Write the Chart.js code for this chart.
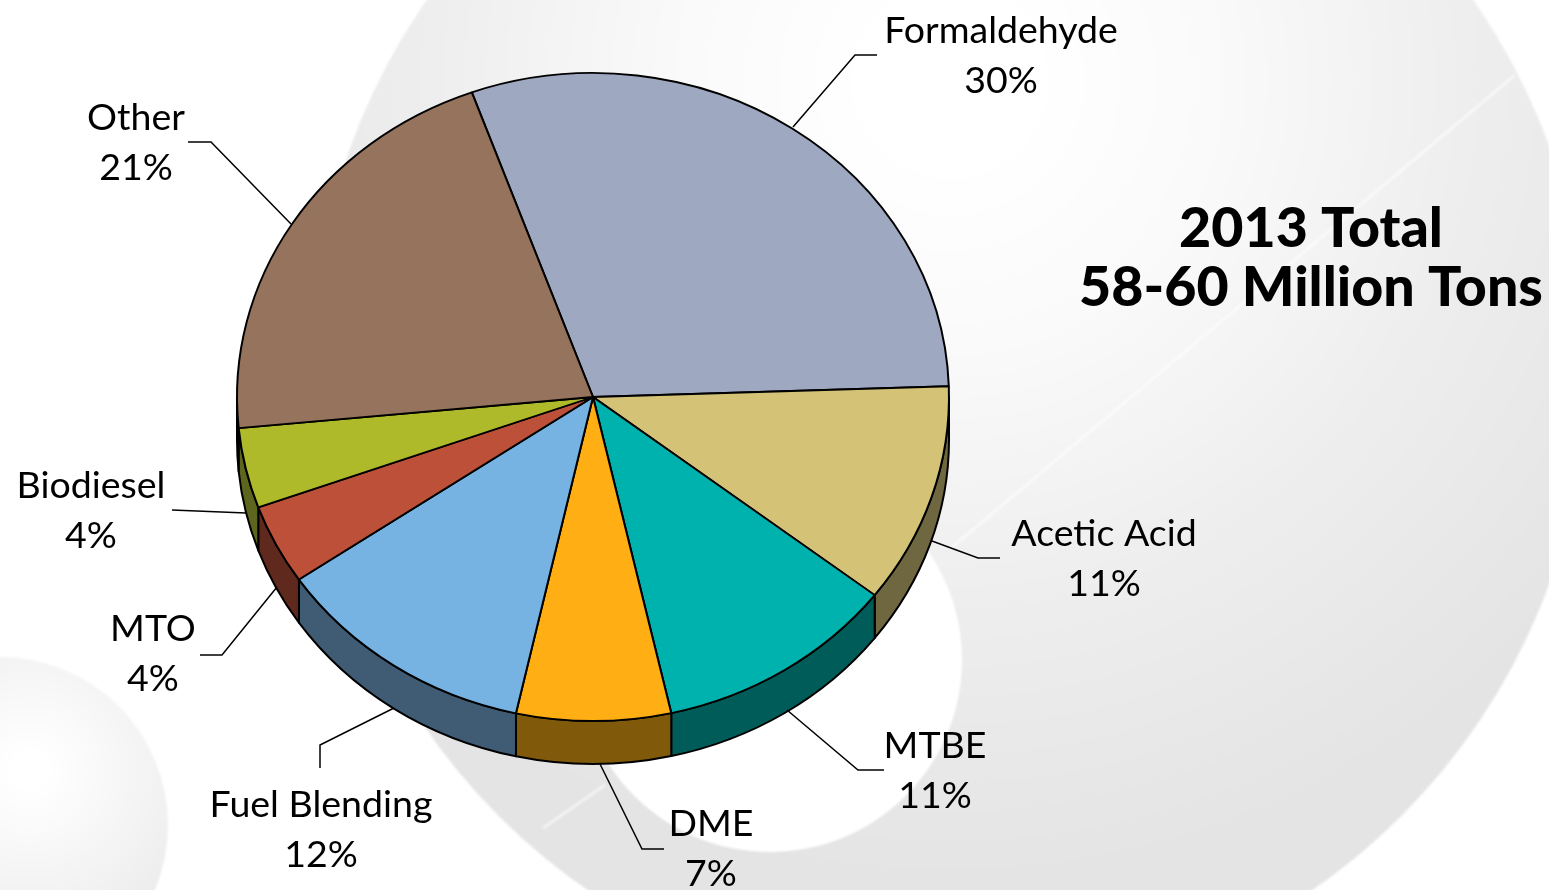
<!DOCTYPE html>
<html>
<head>
<meta charset="utf-8">
<title>2013 Total</title>
<script src="https://cdn.jsdelivr.net/npm/chart.js@4/dist/chart.umd.min.js"></script>
<style>
    body { margin: 0; background: #fff; overflow: hidden; }
    canvas { display: block; }
</style>
</head>
<body>
<canvas id="myChart" width="1549" height="890"></canvas>
<script>
const categories = ['Formaldehyde', 'Acetic Acid', 'MTBE', 'DME', 'Fuel Blending', 'MTO', 'Biodiesel', 'Other'];
const shares = [30, 11, 11, 7, 12, 4, 4, 21];
const titleLines = ['2013 Total', '58-60 Million Tons'];

const topColors = ['#9EA8C1', '#D4C277', '#00B2AE', '#FFAE13', '#76B3E3', '#BD5038', '#AEBA2A', '#96735D'];
const wallColors = ['#5C6478', '#6F673F', '#005C58', '#80590A', '#3F5C74', '#5F291E', '#5E651C', '#4D3A2E'];

// label centre x, first line y, then the leader line
const labelSpots = [
    {x: 1001, y: 31, line: [[793, 127], [855, 55], [877, 55]]},
    {x: 1104, y: 534, line: [[932, 541], [978, 558], [1000, 558]]},
    {x: 935, y: 746, line: [[787, 710], [858, 770], [884, 770]]},
    {x: 711, y: 824, line: [[600, 764], [642, 849], [664, 849]]},
    {x: 321, y: 805, line: [[394, 708], [320, 745], [320, 768]]},
    {x: 153, y: 629, line: [[277, 587], [222, 655], [200, 655]]},
    {x: 91, y: 486, line: [[246, 513], [172, 510]]},
    {x: 136, y: 118, line: [[291, 224], [211, 142], [188, 142]]},
];

const squash = 324 / 356;
const depth = 43;

const backdrop = {
    id: 'backdrop',
    beforeDraw(chart) {
        const ctx = chart.ctx;
        ctx.save();
        ctx.fillStyle = '#fff';
        ctx.fillRect(0, 0, 1549, 890);
        ctx.filter = 'blur(1px)';

        // big grey disc
        let grad = ctx.createRadialGradient(950, 80, 0, 950, 80, 900);
        grad.addColorStop(0.1, '#ffffff');
        grad.addColorStop(0.3, '#fafafa');
        grad.addColorStop(0.58, '#eeeeee');
        grad.addColorStop(0.9, '#e4e4e5');
        ctx.fillStyle = grad;
        ctx.beginPath();
        ctx.arc(950, 365, 638, 0, Math.PI * 2);
        ctx.fill();

        // white hole under the pie
        ctx.fillStyle = '#fff';
        ctx.beginPath();
        ctx.arc(770, 660, 192, 0, Math.PI * 2);
        ctx.fill();

        // small sphere bottom left
        grad = ctx.createRadialGradient(30, 770, 0, 30, 770, 190);
        grad.addColorStop(0.1, '#ffffff');
        grad.addColorStop(1, '#ebebeb');
        ctx.fillStyle = grad;
        ctx.beginPath();
        ctx.arc(0, 825, 168, 0, Math.PI * 2);
        ctx.fill();

        // faint streak across the disc
        ctx.strokeStyle = 'rgba(255,255,255,0.55)';
        ctx.lineWidth = 3;
        ctx.beginPath();
        ctx.moveTo(1515, 75);
        ctx.lineTo(950, 549);
        ctx.stroke();
        ctx.beginPath();
        ctx.moveTo(605, 785);
        ctx.lineTo(543, 828);
        ctx.stroke();
        ctx.restore();
    },
};

const pieTilt = {
    id: 'pieTilt',
    beforeDatasetsDraw(chart) {
        const ctx = chart.ctx;
        const arcs = chart.getDatasetMeta(0).data;
        ctx.save();
        ctx.strokeStyle = '#000';
        ctx.lineWidth = 2;
        ctx.lineJoin = 'round';
        // side wall, only the part of each slice that faces the front
        arcs.forEach((arc, i) => {
            const rx = arc.outerRadius;
            const ry = rx * squash;
            [0, Math.PI * 2].forEach((shift) => {
                const from = Math.max(arc.startAngle - shift, 0);
                const to = Math.min(arc.endAngle - shift, Math.PI);
                if (to <= from) return;
                ctx.beginPath();
                ctx.ellipse(arc.x, arc.y, rx, ry, 0, from, to);
                ctx.ellipse(arc.x, arc.y + depth, rx, ry, 0, to, from, true);
                ctx.closePath();
                ctx.fillStyle = wallColors[i];
                ctx.fill();
                ctx.stroke();
            });
        });
        ctx.restore();

        // squash the top face, library draws the arcs inside this
        const first = arcs[0];
        ctx.save();
        ctx.translate(first.x, first.y);
        ctx.scale(1, squash);
        ctx.translate(-first.x, -first.y);
    },
    afterDatasetsDraw(chart) {
        chart.ctx.restore();
    },
};

const labelText = {
    id: 'labelText',
    afterDraw(chart) {
        const ctx = chart.ctx;
        ctx.save();
        ctx.strokeStyle = '#000';
        ctx.lineWidth = 1.5;
        labelSpots.forEach((spot) => {
            ctx.beginPath();
            spot.line.forEach((p, i) => i ? ctx.lineTo(p[0], p[1]) : ctx.moveTo(p[0], p[1]));
            ctx.stroke();
        });
        ctx.fillStyle = '#000';
        ctx.textAlign = 'center';
        ctx.textBaseline = 'middle';
        ctx.font = '400 37.5px Lato';
        labelSpots.forEach((spot, i) => {
            ctx.fillText(categories[i], spot.x, spot.y);
            ctx.fillText(shares[i] + '%', spot.x, spot.y + 50);
        });
        ctx.font = '900 55.5px Lato';
        ctx.fillText(titleLines[0], 1311, 229);
        ctx.fillText(titleLines[1], 1311, 288);
        ctx.restore();
    },
};

new Chart(document.getElementById('myChart'), {
    type: 'pie',
    data: {
        labels: categories,
        datasets: [{
            data: shares,
            backgroundColor: topColors,
            borderColor: '#000',
            borderWidth: 2,
            borderAlign: 'center',
        }],
    },
    options: {
        responsive: false,
        animation: false,
        rotation: -19.9,
        radius: 356,
        layout: { padding: { right: 363, bottom: 96 } },
        plugins: { legend: { display: false }, tooltip: { enabled: false } },
    },
    plugins: [backdrop, pieTilt, labelText],
});
</script>
</body>
</html>
